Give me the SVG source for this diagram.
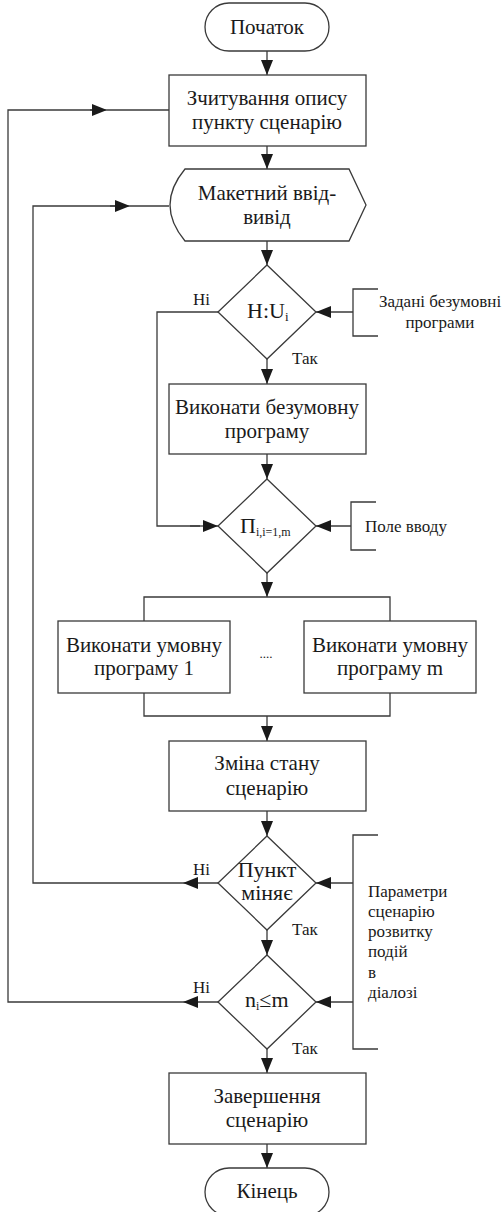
<svg xmlns="http://www.w3.org/2000/svg" width="504" height="1212" viewBox="0 0 504 1212" font-family="'Liberation Serif', 'Times New Roman', serif">
<defs>
<marker id="ah" viewBox="0 0 15 12" refX="15" refY="6" markerWidth="15" markerHeight="12" markerUnits="userSpaceOnUse" orient="auto">
<path d="M0,0 L15,6 L0,12 Z" fill="#1a1a1a"/>
</marker>
</defs>
<style>
.s{fill:#fff;stroke:#3a3a3a;stroke-width:1.3}
.c{fill:none;stroke:#3a3a3a;stroke-width:1.3}
.a{fill:none;stroke:#3a3a3a;stroke-width:1.3;marker-end:url(#ah)}
text{fill:#1a1a1a;font-family:"Liberation Serif","Times New Roman",serif}
.t{font-size:21px;text-anchor:middle}
.d{font-size:22px}
.l{font-size:17px}
</style>
<rect width="504" height="1212" fill="#fff"/>
<g id="connectors">
<path class="a" d="M267 51 L267 75"/>
<path class="a" d="M267 146 L267 169"/>
<path class="a" d="M267 241 L267 265"/>
<path class="a" d="M267 359 L267 384"/>
<path class="a" d="M267 454 L267 479"/>
<path class="c" d="M218 312 L157 312 L157 526 L200 526"/>
<path class="a" d="M190 526 L218 526"/>
<path class="a" d="M353 312 L316 312"/>
<path class="a" d="M351 526 L316 526"/>
<path class="a" d="M267 573 L267 597"/>
<path class="c" d="M144 621 L144 597 L390 597 L390 621"/>
<path class="c" d="M144 693 L144 716 L390 716 L390 693"/>
<path class="a" d="M267 716 L267 741"/>
<path class="a" d="M267 811 L267 836"/>
<path class="a" d="M218 883 L183 883"/>
<path class="c" d="M183 883 L33 883 L33 206 L120 206"/>
<path class="a" d="M110 206 L130 206"/>
<path class="c" d="M130 206 L169 206"/>
<path class="a" d="M218 1002 L183 1002"/>
<path class="c" d="M183 1002 L8 1002 L8 110 L100 110"/>
<path class="a" d="M90 110 L107 110"/>
<path class="c" d="M107 110 L169 110"/>
<path class="a" d="M353 883 L316 883"/>
<path class="a" d="M353 1002 L316 1002"/>
<path class="a" d="M267 930 L267 955"/>
<path class="a" d="M267 1049 L267 1073"/>
<path class="a" d="M267 1144 L267 1168"/>
</g>
<g id="start">
<rect class="s" x="205" y="3" width="124" height="48" rx="24"/>
<text class="t" x="267" y="34">Початок</text>
</g>
<g id="read">
<rect class="s" x="169" y="75" width="197" height="71"/>
<text class="t" x="267" y="105">Зчитування опису</text>
<text class="t" x="267" y="129">пункту сценарію</text>
</g>
<g id="display">
<path class="s" d="M185 169 L349 169 L366 205 L349 241 L185 241 Q155 205 185 169 Z"/>
<text class="t" x="267" y="200">Макетний ввід-</text>
<text class="t" x="267" y="224">вивід</text>
</g>
<g id="d1">
<path class="s" d="M267 265 L316 312 L267 359 L218 312 Z"/>
<text class="d" x="247" y="318">H:U<tspan font-size="13" dy="3">i</tspan></text>
<text class="l" x="193" y="305">Ні</text>
<text class="l" x="292" y="364">Так</text>
</g>
<g id="given">
<path class="c" d="M378 289 L353 289 L353 336 L378 336"/>
<text class="l" x="440" y="307" text-anchor="middle">Задані безумовні</text>
<text class="l" x="440" y="328" text-anchor="middle">програми</text>
</g>
<g id="uncond">
<rect class="s" x="169" y="384" width="197" height="70"/>
<text class="t" x="267" y="414">Виконати безумовну</text>
<text class="t" x="267" y="438">програму</text>
</g>
<g id="d2">
<path class="s" d="M267 479 L316 526 L267 573 L218 526 Z"/>
<text class="d" x="240" y="533">П<tspan font-size="12" dy="3">i,i=1,m</tspan></text>
</g>
<g id="field">
<path class="c" d="M376 502 L351 502 L351 550 L376 550"/>
<text class="l" x="365" y="532">Поле вводу</text>
</g>
<g id="cond1">
<rect class="s" x="58" y="621" width="172" height="72"/>
<text class="t" x="144" y="652">Виконати умовну</text>
<text class="t" x="144" y="675">програму 1</text>
</g>
<text x="266" y="658" font-size="13" text-anchor="middle" fill="#555">....</text>
<g id="condm">
<rect class="s" x="304" y="621" width="172" height="72"/>
<text class="t" x="390" y="652">Виконати умовну</text>
<text class="t" x="390" y="675">програму m</text>
</g>
<g id="change">
<rect class="s" x="169" y="741" width="197" height="70"/>
<text class="t" x="267" y="770">Зміна стану</text>
<text class="t" x="267" y="795">сценарію</text>
</g>
<g id="d3">
<path class="s" d="M267 836 L316 883 L267 930 L218 883 Z"/>
<text class="d" x="267" y="877" text-anchor="middle">Пункт</text>
<text class="d" x="267" y="900" text-anchor="middle">міняє</text>
<text class="l" x="193" y="875">Ні</text>
<text class="l" x="292" y="935">Так</text>
</g>
<g id="params">
<path class="c" d="M378 835 L353 835 L353 1049 L378 1049"/>
<text class="l" x="368" y="897">Параметри</text>
<text class="l" x="368" y="917">сценарію</text>
<text class="l" x="368" y="937">розвитку</text>
<text class="l" x="368" y="957">подій</text>
<text class="l" x="368" y="978">в</text>
<text class="l" x="368" y="998">діалозі</text>
</g>
<g id="d4">
<path class="s" d="M267 955 L316 1002 L267 1049 L218 1002 Z"/>
<text class="d" x="245" y="1007">n<tspan font-size="12" dy="3">i</tspan><tspan dy="-3">≤m</tspan></text>
<text class="l" x="193" y="993">Ні</text>
<text class="l" x="292" y="1054">Так</text>
</g>
<g id="finish">
<rect class="s" x="169" y="1073" width="197" height="71"/>
<text class="t" x="267" y="1103">Завершення</text>
<text class="t" x="267" y="1127">сценарію</text>
</g>
<g id="end">
<rect class="s" x="205" y="1168" width="124" height="48" rx="24"/>
<text class="t" x="267" y="1198">Кінець</text>
</g>
</svg>
